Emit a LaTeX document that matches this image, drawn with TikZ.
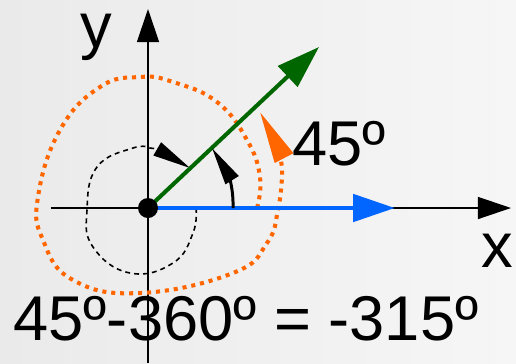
\documentclass[tikz,border=0pt]{standalone}
\usepackage{fontspec}
\setmainfont{Liberation Sans}
\usepackage{xcolor}
\usepackage{tikz}
\usetikzlibrary{arrows.meta,positioning,calc}

\definecolor{bgleft}{RGB}{234,234,234}
\definecolor{bgright}{RGB}{246,246,246}
\definecolor{vecgreen}{RGB}{0,102,0}
\definecolor{vecblue}{RGB}{0,102,255}
\definecolor{turnorange}{RGB}{255,102,0}

\begin{document}
\begin{tikzpicture}[
    x=0.02cm,y=0.02cm,
    axis/.style={line width=0.85pt,-{Triangle[length=18.8pt,width=12.5pt]}},
    greenvec/.style={vecgreen,line width=2.3pt,-{Triangle[length=24.5pt,width=15.9pt]}},
    bluevec/.style={vecblue,line width=2.8pt,-{Triangle[length=23.9pt,width=15.4pt]}},
    orangeturn/.style={turnorange,line width=2.3pt,dash pattern=on 2.3pt off 2.8pt,
                       -{Triangle[length=29.6pt,width=11.4pt]}},
    blackturn/.style={line width=0.9pt,dash pattern=on 2.8pt off 2.3pt,
                      -{Triangle[length=21.6pt,width=8.5pt]}},
    angarc/.style={line width=1.7pt,-{Triangle[length=21.6pt,width=8.5pt]}},
    lbl/.style={font=\fontsize{36}{42}\selectfont,inner sep=0pt,anchor=base}
]
% background
\shade[left color=bgleft,right color=bgright] (-148,-155) rectangle (368,208);
\useasboundingbox (-148,-155) rectangle (368,208);

\coordinate (O) at (0,0);
\coordinate (xend) at (363,0);
\coordinate (yend) at (0,199);

% axes
\draw[axis] (-97,0) -- (xend);
\draw[axis] (0,-155) -- (yend);

% turns
\draw[blackturn] plot[smooth,tension=0.75] coordinates {(48,0) (45,-25) (25,-55) (-18,-65) (-55,-39)
    (-61,-2) (-51,41) (-15,60) (2,60)} .. controls (12,60) and (30,47) .. (42,40);
\draw[orangeturn] plot[smooth,tension=0.75] coordinates {(109,0) (112,31) (99,68) (69,106) (25,126)
    (-8,131) (-48,121) (-88,78) (-110,11) (-105,-32) (-75,-72) (-8,-85) (85,-65) (119,-35)
    (130,-2) (134,31)} .. controls (136,48) and (124,73) .. (112,96);

% vectors
\draw[bluevec] (O) -- (247,0);
\draw[greenvec] (O) -- (171,161);
\draw[angarc] (85,0) to[out=88,in=-58] (64,60);
\fill (O) circle[radius=10];

% labels
\node[lbl,text height=1ex] (ylabel) at (-52,161) {y};
\node[lbl] (xlabel) at (349,-59) {x};
\node[lbl] (anglabel) at (191,43) {45º};
\node[lbl] (equation) at (98,-132) {45º-360º = -315º};
\end{tikzpicture}
\end{document}
